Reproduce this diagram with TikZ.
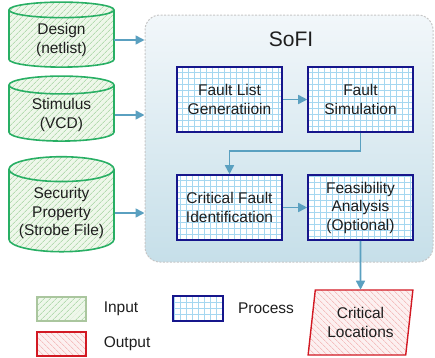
\documentclass[tikz,border=0pt]{standalone}
\usepackage{fontspec}
\setmainfont{Liberation Sans}
\usepackage{xcolor}
\usepackage{tikz}
\usetikzlibrary{arrows.meta}
\usetikzlibrary{shapes.geometric, positioning, patterns.meta}

\definecolor{inpgreen}{RGB}{40,175,100}
\definecolor{inpfill}{RGB}{238,247,234}
\definecolor{inphatch}{RGB}{150,205,145}
\definecolor{leggreen}{RGB}{170,198,158}
\definecolor{procblue}{RGB}{22,22,140}
\definecolor{gridblue}{RGB}{165,215,240}
\definecolor{outred}{RGB}{210,25,35}
\definecolor{outfill}{RGB}{252,240,240}
\definecolor{outhatch}{RGB}{240,165,165}
\definecolor{flowblue}{RGB}{90,160,192}
\definecolor{sofitop}{RGB}{242,247,250}
\definecolor{sofibot}{RGB}{198,223,233}
\definecolor{txt}{RGB}{30,30,30}

\tikzset{
  txtfont/.style={font=\fontsize{15.5}{18.5}\selectfont, text=txt, align=center},
  inbox/.style={cylinder, shape border rotate=90, aspect=0.27, draw=inpgreen, line width=1.6pt,
    preaction={fill=inpfill}, pattern={Lines[angle=45,distance=4pt,line width=0.6pt]},
    pattern color=inphatch, minimum width=105pt, minimum height=65pt, txtfont},
  procbox/.style={rectangle, draw=procblue, line width=1.6pt, fill=white,
    path picture={\draw[gridblue, line width=0.4pt, step=6pt]
      (path picture bounding box.south west) grid (path picture bounding box.north east);},
    minimum width=105pt, minimum height=65pt, txtfont},
  outbox/.style={trapezium, trapezium left angle=81, trapezium right angle=99, trapezium stretches=true,
    draw=outred, line width=1.4pt, preaction={fill=outfill},
    pattern={Lines[angle=-45,distance=4pt,line width=0.6pt]}, pattern color=outhatch,
    minimum width=105pt, minimum height=65pt, txtfont},
  flow/.style={draw=flowblue, line width=1.6pt, -{Triangle[length=9pt,width=9pt]}},
  legtext/.style={txtfont, anchor=west, inner sep=0pt}
}

\begin{document}
\begin{tikzpicture}[x=1pt, y=-1pt]
  \useasboundingbox (0,0) rectangle (435,357);

  % SoFI frame
  \node[draw=gray!45, line width=1pt, dash pattern=on 2pt off 1.5pt, rounded corners=15pt,
    top color=sofitop, bottom color=sofibot, minimum width=288pt, minimum height=247pt] (sofi) at (289,138.5) {};
  \node[font=\fontsize{21}{24}\selectfont, text=txt] (title) at (291,39) {SoFI};

  % inputs
  \node[inbox] (design) at (61.5,40) {Design\\(netlist)};
  \node[inbox] (stim) at (61.5,115) {Stimulus\\(VCD)};
  \node[inbox, minimum height=95pt] (secprop) at (61.5,213) {Security\\Property\\(Strobe File)};

  % process steps
  \node[procbox] (flg) at (229.5,99.5) {Fault List\\Generatiioin};
  \node[procbox] (fsim) at (360.5,99.5) {Fault\\Simulation};
  \node[procbox] (cfi) at (229.5,207.5) {Critical Fault\\Identification};
  \node[procbox] (feas) at (360.5,207.5) {Feasibility\\Analysis\\(Optional)};

  % output
  \node[outbox] (crit) at (360.5,322.5) {Critical\\Locations};

  % connectors
  \foreach \src in {design, stim, secprop} {
    \draw[flow] (\src.east) -- (\src.east -| sofi.west);
  }
  \draw[flow] (flg) -- (fsim);
  \draw[flow] (fsim.south) -- ++(0,18) -| (cfi.north);
  \draw[flow] (cfi) -- (feas);
  \draw[flow] (feas.south) -- (crit.north);

  % legend
  \node[draw=leggreen, line width=1.2pt, preaction={fill=inpfill},
    pattern={Lines[angle=45,distance=4pt,line width=0.6pt]}, pattern color=inphatch,
    minimum width=49pt, minimum height=24pt] (legin) at (61.5,309) {};
  \node[draw=outred, line width=1.2pt, preaction={fill=outfill},
    pattern={Lines[angle=-45,distance=4pt,line width=0.6pt]}, pattern color=outhatch,
    minimum width=49pt, minimum height=24pt] (legout) at (61.5,344) {};
  \node[procbox, minimum width=50pt, minimum height=25pt] (legproc) at (198,308.5) {};
  \node[legtext, right=17pt of legin] (legintxt) {Input};
  \node[legtext, right=17pt of legout] (legouttxt) {Output};
  \node[legtext, right=14pt of legproc] (legproctxt) {Process};
\end{tikzpicture}
\end{document}
